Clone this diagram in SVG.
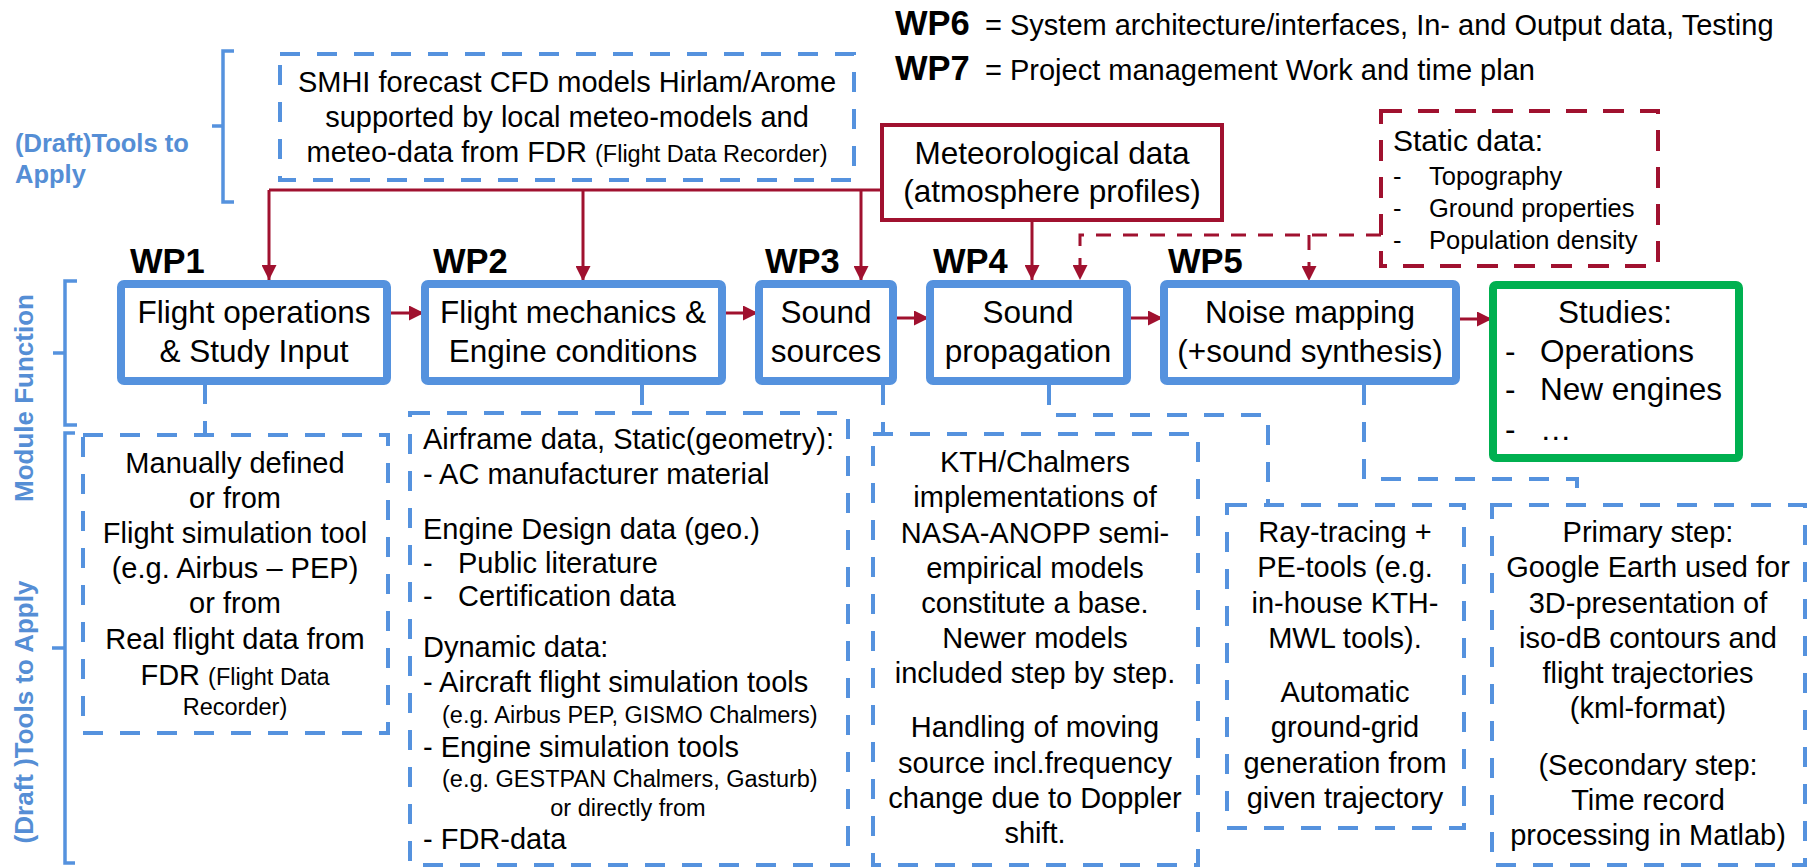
<svg xmlns="http://www.w3.org/2000/svg" width="1809" height="867" viewBox="0 0 1809 867">
<style>
text{font-family:"Liberation Sans",Arial,sans-serif;fill:#000}
.bx{font-size:31.5px;text-anchor:middle}
.tl{font-size:29px}
.c{text-anchor:middle}
.sm{font-size:23.5px}
.wp{font-size:34.5px;font-weight:bold}
.hd{font-size:29px}
.bl{fill:#558ED5;font-weight:bold;font-size:26px}
.mod{fill:#fff;stroke:#5592DE;stroke-width:8}
.tool{fill:none;stroke:#5592DE;stroke-width:4;stroke-dasharray:20 17}
.brk{fill:none;stroke:#5592DE;stroke-width:3.5}
.red{fill:none;stroke:#A0112F;stroke-width:3}
.redd{fill:none;stroke:#A0112F;stroke-width:3;stroke-dasharray:15 12}
.bld{fill:none;stroke:#5592DE;stroke-width:4;stroke-dasharray:20 17}
</style>
<defs>
<marker id="ah" viewBox="0 0 15 15" refX="15" refY="7.5" markerWidth="15" markerHeight="15" markerUnits="userSpaceOnUse" orient="auto">
<path d="M0,0 L15,7.5 L0,15 z" fill="#A0112F"/>
</marker>
</defs>
<rect width="1809" height="867" fill="#fff"/>

<g id="legend">
<text x="895" y="35" class="wp">WP6</text>
<text x="985" y="35" class="hd">= System architecture/interfaces, In- and Output data, Testing</text>
<text x="895" y="80" class="wp">WP7</text>
<text x="985" y="80" class="hd">= Project management Work and time plan</text>
</g>

<g id="side-labels">
<path class="brk" d="M234,51 H223 V202 H234 M223,126 H212"/>
<text x="15" y="152" class="bl" style="font-size:25.5px">(Draft)Tools to</text>
<text x="15" y="183" class="bl" style="font-size:25.5px">Apply</text>
<path class="brk" d="M77,281 H65 V425 H77 M65,353 H53"/>
<text class="bl c" transform="translate(33,398) rotate(-90)">Module Function</text>
<path class="brk" d="M75,433 H65 V863 H75 M65,648 H52"/>
<text class="bl c" transform="translate(33,712) rotate(-90)">(Draft )Tools to Apply</text>
</g>

<g id="connectors">
<path class="red" d="M269,190 H880"/>
<path class="red" d="M269,190 V280" marker-end="url(#ah)"/>
<path class="red" d="M583,190 V281" marker-end="url(#ah)"/>
<path class="red" d="M861,190 V281" marker-end="url(#ah)"/>
<path class="red" d="M1032,222 V280" marker-end="url(#ah)"/>
<path class="redd" d="M1381,235 H1080 V280" marker-end="url(#ah)"/>
<path class="redd" d="M1309,235 V281" marker-end="url(#ah)"/>
<path class="red" d="M391,313 H424" marker-end="url(#ah)"/>
<path class="red" d="M726,313 H758" marker-end="url(#ah)"/>
<path class="red" d="M897,318 H929" marker-end="url(#ah)"/>
<path class="red" d="M1131,318 H1163" marker-end="url(#ah)"/>
<path class="red" d="M1460,319 H1492" marker-end="url(#ah)"/>
<path class="bld" d="M205,384 V435"/>
<path class="bld" d="M642,385 V413"/>
<path class="bld" d="M883,385 V434"/>
<path class="bld" d="M1049,385 V415 H1268 V505"/>
<path class="bld" d="M1364,385 V479 H1577 V505"/>
</g>

<g id="smhi">
<rect x="280" y="54" width="574" height="126" class="tool"/>
<text x="567" y="92" class="tl c">SMHI forecast CFD models Hirlam/Arome</text>
<text x="567" y="127" class="tl c">supported by local meteo-models and</text>
<text x="567" y="162" class="tl c">meteo-data from FDR <tspan class="sm">(Flight Data Recorder)</tspan></text>
</g>

<g id="meteo">
<rect x="882" y="125" width="340" height="95" fill="#fff" stroke="#A0112F" stroke-width="4"/>
<text x="1052" y="164" class="bx">Meteorological data</text>
<text x="1052" y="202" class="bx">(atmosphere profiles)</text>
</g>

<g id="static">
<rect x="1381" y="111" width="277" height="155" fill="none" stroke="#A0112F" stroke-width="4" stroke-dasharray="21 16"/>
<text x="1393" y="151" style="font-size:30px">Static data:</text>
<text x="1393" y="185" style="font-size:25.5px">-</text>
<text x="1429" y="185" style="font-size:25.5px">Topography</text>
<text x="1393" y="217" style="font-size:25.5px">-</text>
<text x="1429" y="217" style="font-size:25.5px">Ground properties</text>
<text x="1393" y="249" style="font-size:25.5px">-</text>
<text x="1429" y="249" style="font-size:25.5px">Population density</text>
</g>

<g id="wp1">
<text x="130" y="273" class="wp">WP1</text>
<rect x="121" y="284" width="266" height="97" rx="3" class="mod"/>
<text x="254" y="323" class="bx">Flight operations</text>
<text x="254" y="362" class="bx">&amp; Study Input</text>
</g>

<g id="wp2">
<text x="433" y="273" class="wp">WP2</text>
<rect x="425" y="284" width="297" height="97" rx="3" class="mod"/>
<text x="573" y="323" class="bx">Flight mechanics &amp;</text>
<text x="573" y="362" class="bx">Engine conditions</text>
</g>

<g id="wp3">
<text x="765" y="273" class="wp">WP3</text>
<rect x="759" y="284" width="134" height="97" rx="3" class="mod"/>
<text x="826" y="323" class="bx">Sound</text>
<text x="826" y="362" class="bx">sources</text>
</g>

<g id="wp4">
<text x="933" y="273" class="wp">WP4</text>
<rect x="930" y="284" width="197" height="97" rx="3" class="mod"/>
<text x="1028" y="323" class="bx">Sound</text>
<text x="1028" y="362" class="bx">propagation</text>
</g>

<g id="wp5">
<text x="1168" y="273" class="wp">WP5</text>
<rect x="1164" y="284" width="292" height="97" rx="3" class="mod"/>
<text x="1310" y="323" class="bx">Noise mapping</text>
<text x="1310" y="362" class="bx">(+sound synthesis)</text>
</g>

<g id="studies">
<rect x="1493" y="285" width="246" height="173" rx="3" fill="#fff" stroke="#00B050" stroke-width="8"/>
<text x="1615" y="323" class="bx">Studies:</text>
<text x="1505" y="362" style="font-size:31.5px">-</text>
<text x="1540" y="362" style="font-size:31.5px">Operations</text>
<text x="1505" y="400" style="font-size:31.5px">-</text>
<text x="1540" y="400" style="font-size:31.5px">New engines</text>
<text x="1505" y="440" style="font-size:31.5px">-</text>
<text x="1540" y="440" style="font-size:31.5px">…</text>
</g>

<g id="wp1-tools">
<rect x="83" y="435" width="305" height="298" class="tool"/>
<text x="235" y="473" class="tl c">Manually defined</text>
<text x="235" y="508" class="tl c">or from</text>
<text x="235" y="543" class="tl c">Flight simulation tool</text>
<text x="235" y="578" class="tl c">(e.g. Airbus – PEP)</text>
<text x="235" y="613" class="tl c">or from</text>
<text x="235" y="649" class="tl c">Real flight data from</text>
<text x="235" y="685" class="tl c">FDR <tspan class="sm">(Flight Data</tspan></text>
<text x="235" y="715" class="sm c">Recorder)</text>
</g>

<g id="wp2-tools">
<rect x="410" y="413" width="438" height="452" class="tool"/>
<text x="423" y="449" class="tl">Airframe data, Static(geometry):</text>
<text x="423" y="484" class="tl">- AC manufacturer material</text>
<text x="423" y="539" class="tl">Engine Design data (geo.)</text>
<text x="423" y="573" class="tl">-</text>
<text x="458" y="573" class="tl">Public literature</text>
<text x="423" y="606" class="tl">-</text>
<text x="458" y="606" class="tl">Certification data</text>
<text x="423" y="657" class="tl">Dynamic data:</text>
<text x="423" y="692" class="tl">- Aircraft flight simulation tools</text>
<text x="442" y="723" class="sm">(e.g. Airbus PEP, GISMO Chalmers)</text>
<text x="423" y="757" class="tl">- Engine simulation tools</text>
<text x="442" y="787" class="sm">(e.g. GESTPAN Chalmers, Gasturb)</text>
<text x="628" y="816" class="sm c">or directly from</text>
<text x="423" y="849" class="tl">- FDR-data</text>
</g>

<g id="wp4-tools">
<rect x="873" y="434" width="325" height="431" class="tool"/>
<text x="1035" y="472" class="tl c">KTH/Chalmers</text>
<text x="1035" y="507" class="tl c">implementations of</text>
<text x="1035" y="543" class="tl c">NASA-ANOPP semi-</text>
<text x="1035" y="578" class="tl c">empirical models</text>
<text x="1035" y="613" class="tl c">constitute a base.</text>
<text x="1035" y="648" class="tl c">Newer models</text>
<text x="1035" y="683" class="tl c">included step by step.</text>
<text x="1035" y="737" class="tl c">Handling of moving</text>
<text x="1035" y="773" class="tl c">source incl.frequency</text>
<text x="1035" y="808" class="tl c">change due to Doppler</text>
<text x="1035" y="843" class="tl c">shift.</text>
</g>

<g id="wp5-tools-a">
<rect x="1227" y="505" width="237" height="323" class="tool"/>
<text x="1345" y="542" class="tl c">Ray-tracing +</text>
<text x="1345" y="577" class="tl c">PE-tools (e.g.</text>
<text x="1345" y="613" class="tl c">in-house KTH-</text>
<text x="1345" y="648" class="tl c">MWL tools).</text>
<text x="1345" y="702" class="tl c">Automatic</text>
<text x="1345" y="737" class="tl c">ground-grid</text>
<text x="1345" y="773" class="tl c">generation from</text>
<text x="1345" y="808" class="tl c">given trajectory</text>
</g>

<g id="wp5-tools-b">
<rect x="1492" y="505" width="313" height="360" class="tool"/>
<text x="1648" y="542" class="tl c">Primary step:</text>
<text x="1648" y="577" class="tl c">Google Earth used for</text>
<text x="1648" y="613" class="tl c">3D-presentation of</text>
<text x="1648" y="648" class="tl c">iso-dB contours and</text>
<text x="1648" y="683" class="tl c">flight trajectories</text>
<text x="1648" y="718" class="tl c">(kml-format)</text>
<text x="1648" y="775" class="tl c">(Secondary step:</text>
<text x="1648" y="810" class="tl c">Time record</text>
<text x="1648" y="845" class="tl c">processing in Matlab)</text>
</g>
</svg>
